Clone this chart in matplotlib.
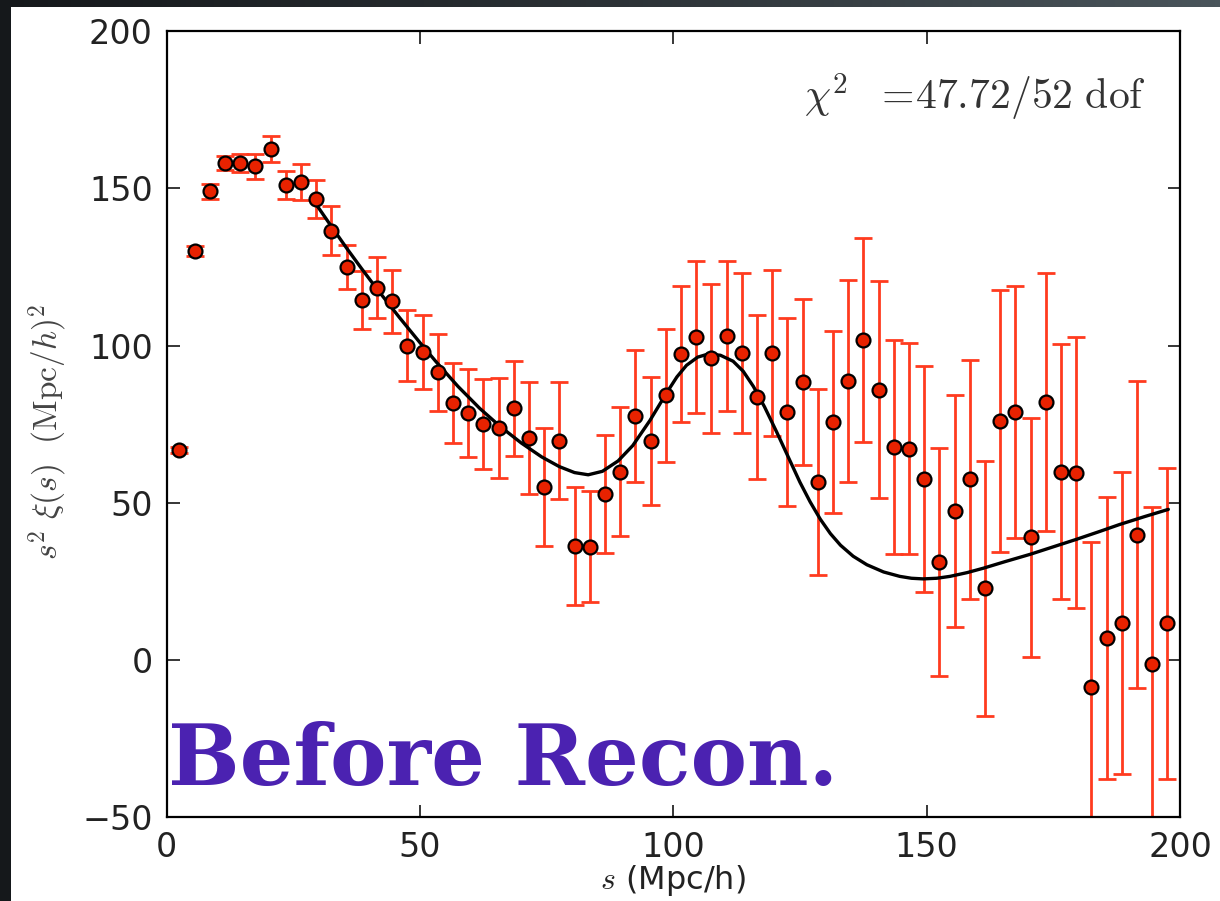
import matplotlib
matplotlib.use("Agg")
import matplotlib.pyplot as plt
import numpy as np
from matplotlib.patches import Rectangle

# Binned correlation function measurement
s_bins = [2.5, 5.5, 8.5, 11.5, 14.5, 17.5, 20.5, 23.5, 26.5, 29.5,
          32.5, 35.5, 38.5, 41.5, 44.5, 47.5, 50.5, 53.5, 56.5, 59.5,
          62.5, 65.5, 68.5, 71.5, 74.5, 77.5, 80.5, 83.5, 86.5, 89.5,
          92.5, 95.5, 98.5, 101.5, 104.5, 107.5, 110.5, 113.5, 116.5, 119.5,
          122.5, 125.5, 128.5, 131.5, 134.5, 137.5, 140.5, 143.5, 146.5, 149.5,
          152.5, 155.5, 158.5, 161.5, 164.5, 167.5, 170.5, 173.5, 176.5, 179.5,
          182.5, 185.5, 188.5, 191.5, 194.5, 197.5]
xi_s2 = [66.7, 130.0, 149.0, 158.0, 158.0, 157.0, 162.5, 151.0, 152.0, 146.6,
         136.5, 125.0, 114.6, 118.4, 114.0, 100.0, 98.0, 91.5, 81.8, 78.6,
         75.1, 73.9, 80.0, 70.7, 55.0, 69.8, 36.2, 36.0, 52.9, 59.9,
         77.6, 69.6, 84.2, 97.3, 102.6, 95.9, 103.0, 97.6, 83.6, 97.5,
         78.9, 88.4, 56.6, 75.6, 88.7, 101.7, 86.0, 67.8, 67.2, 57.5,
         31.2, 47.4, 57.5, 22.8, 76.0, 78.8, 39.1, 82.0, 59.9, 59.6,
         -8.5, 7.0, 11.7, 39.9, -1.3, 11.7]
xi_err = [1.0, 1.5, 2.5, 2.2, 2.9, 4.0, 4.1, 4.5, 5.7, 6.0,
          7.7, 7.1, 9.2, 9.8, 9.9, 11.3, 11.7, 12.3, 12.7, 13.9,
          14.3, 15.9, 15.2, 17.8, 18.9, 18.7, 18.8, 17.6, 18.8, 20.4,
          20.9, 20.3, 21.2, 21.5, 24.2, 23.8, 23.8, 25.3, 26.0, 26.4,
          30.0, 26.5, 29.5, 29.0, 32.0, 32.4, 34.4, 34.1, 33.5, 36.0,
          36.2, 37.0, 38.0, 40.5, 41.6, 40.0, 38.0, 41.0, 40.5, 43.0,
          46.0, 44.7, 48.0, 48.7, 50.0, 49.5]

# Best-fit model curve
model_s = [28.9, 32.2, 35.5, 38.5, 41.4, 46.0, 50.0, 53.3, 57.5, 61.8,
           65.8, 70.0, 74.0, 77.5, 80.5, 83.2, 86.0, 89.1, 92.0, 95.4,
           98.7, 100.7, 102.6, 104.8, 106.9, 109.3, 111.8, 113.8, 115.8, 118.0,
           120.4, 122.7, 125.0, 127.0, 129.0, 131.0, 133.0, 135.5, 138.2, 141.5,
           144.7, 147.0, 149.3, 152.0, 154.6, 158.0, 161.2, 165.5, 170.4, 175.0,
           179.6, 184.0, 188.1, 193.0, 197.7]
model_xi = [146.3, 138.6, 131.0, 124.4, 118.2, 108.8, 100.9, 94.6, 87.0, 80.0,
            74.3, 69.0, 64.6, 61.5, 59.6, 58.9, 60.0, 63.3, 68.2, 76.2,
            85.0, 90.0, 93.7, 96.3, 97.3, 96.9, 95.0, 91.8, 87.0, 80.5,
            72.5, 64.5, 56.5, 50.3, 44.8, 40.2, 36.5, 33.0, 30.3, 28.0,
            26.6, 26.0, 25.8, 26.0, 26.6, 27.8, 29.2, 31.3, 33.6, 36.0,
            38.4, 40.8, 43.1, 45.6, 47.9]

x_ticks = [0, 50, 100, 150, 200]
y_ticks = [-50, 0, 50, 100, 150, 200]

fig = plt.figure(figsize=(12.2, 9.01), dpi=100)
fig.patch.set_facecolor("#1c2024")

# dark slide backdrop with a lighter band across the top
bg = fig.add_axes([0, 0, 1, 1], zorder=-10)
grad = np.linspace(0, 1, 256)[None, :]
bg.imshow(grad, aspect="auto", extent=[0, 1, 0, 1],
          cmap=matplotlib.colors.LinearSegmentedColormap.from_list(
              "slide", ["#15181b", "#2c3236", "#4a555b"]))
bg.set_axis_off()
fig.patches.append(Rectangle((11 / 1220, 0), 1, (901 - 7) / 901,
                             transform=fig.transFigure, facecolor="white",
                             edgecolor="none", zorder=-5))

ax = fig.add_axes([0.1366, 0.0929, 0.9672 - 0.1366, 0.9656 - 0.0929])
ax.set_facecolor("white")

err_color = "#ff3b1f"
ax.errorbar(s_bins, xi_s2, yerr=xi_err, fmt="none", ecolor=err_color,
            elinewidth=2.0, capsize=6.5, capthick=2.0, zorder=2, clip_on=True)
ax.plot(model_s, model_xi, color="black", lw=2.4, zorder=3,
        solid_joinstyle="round", solid_capstyle="round")
ax.plot(s_bins, xi_s2, "o", ms=10, mfc="#e82200", mec="black", mew=1.6,
        zorder=4)

ax.set_xlim(0, 200)
ax.set_ylim(-50, 200)
ax.set_xticks(x_ticks)
ax.set_yticks(y_ticks)
ax.tick_params(direction="in", length=9, width=1.1, top=True, right=True,
               labelsize=24, pad=10, labelcolor="#222222")
for sp in ax.spines.values():
    sp.set_linewidth(1.6)

ax.set_xlabel(r"$s$ (Mpc/h)", fontsize=23, color="#222222",
              math_fontfamily="cm")
ax.xaxis.set_label_coords(0.5, -0.058)
ax.set_ylabel(r"$s^2\ \xi(s)\ \ (\mathrm{Mpc}/h)^2$", fontsize=24,
              color="#444444", math_fontfamily="cm")
ax.yaxis.set_label_coords(-0.095, 0.49)

ax.text(0.966, 0.916, r"$\chi^2\ \ =\!47.72/52\ \mathrm{dof}$",
        transform=ax.transAxes, ha="right", va="center", fontsize=30,
        color="#333333", math_fontfamily="cm")

ax.text(0.0015, 0.041, "Before Recon.", transform=ax.transAxes,
        ha="left", va="baseline", fontsize=61, family="DejaVu Serif",
        fontweight="bold", color="#4b22b1", zorder=6)

fig.savefig("out.png", dpi=100, facecolor=fig.get_facecolor())
